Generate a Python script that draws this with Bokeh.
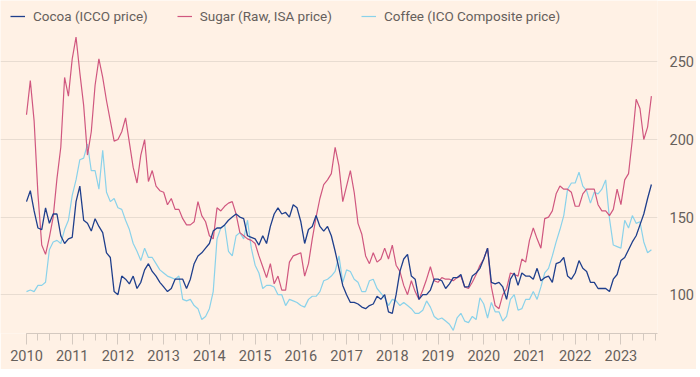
import pandas as pd
from bokeh.plotting import figure
from bokeh.models import FixedTicker, Legend, LegendItem, ColumnDataSource
from bokeh.embed import file_html
from bokeh.resources import INLINE

# Monthly index values, Jan 2010 .. Sep 2023
cocoa = [160,167,154,143,142,156,146,152,152,138,133,136,137,160,170,148,146,141,149,144,
         140,127,124,102,100,112,110,107,112,104,108,116,120,115,112,108,105,102,104,110,
         110,110,104,110,120,125,127,130,133,141,143,143,145,148,150,152,150,149,138,137,
         136,132,138,133,144,152,156,152,153,150,158,156,147,133,142,144,151,144,141,144,
         138,128,117,106,100,95,95,94,92,91,93,94,99,97,100,89,88,100,115,123,
         126,112,110,97,100,100,103,110,110,109,104,107,111,111,113,105,105,112,114,117,
         123,130,108,107,108,105,97,110,114,106,114,112,112,110,117,109,111,112,108,120,
         121,124,112,110,114,122,117,115,108,108,104,104,104,102,110,113,122,124,129,134,
         138,145,152,162,171]
sugar = [216,238,212,165,132,126,137,150,175,195,240,228,252,266,243,222,190,205,235,252,
         240,225,212,199,200,205,214,198,182,172,190,200,173,180,170,167,166,158,162,155,
         155,149,145,145,147,160,151,147,138,136,156,154,157,159,160,152,140,138,136,135,
         133,125,118,111,120,107,112,103,103,121,125,126,127,112,120,136,150,162,171,174,
         178,195,183,160,170,180,166,146,139,125,120,127,121,123,130,123,132,119,115,106,
         100,109,102,97,103,110,118,109,108,111,110,110,109,111,112,105,104,108,113,119,
         123,130,105,93,91,100,104,114,113,112,123,121,135,143,136,130,149,150,154,165,
         170,168,168,166,157,157,165,168,168,168,158,154,154,151,155,168,158,174,178,200,
         226,220,200,208,228]
coffee = [102,103,102,106,106,108,129,134,135,133,142,148,164,174,187,188,197,180,180,168,
          193,166,160,162,156,155,148,142,133,128,122,130,124,124,120,116,114,112,111,110,
          112,97,96,97,93,91,84,86,91,102,136,143,145,128,125,138,140,136,148,130,
          119,114,104,106,106,105,100,100,93,97,96,95,93,92,97,99,99,102,109,110,
          112,115,125,108,116,115,110,108,102,102,109,110,104,101,98,93,97,96,93,95,
          93,91,88,88,90,96,92,86,84,85,83,81,77,85,88,83,82,86,84,98,
          94,85,95,89,89,83,86,97,100,90,91,97,97,102,97,105,114,117,125,134,
          142,151,168,172,172,179,170,167,159,166,165,168,174,149,132,131,130,148,143,151,
          146,147,134,127,129]
dates = pd.date_range("2010-01-01", periods=len(cocoa), freq="MS")
years = [d.year + (d.month - 1) / 12 for d in dates]

year_ticks = list(range(2010, 2024))
quarter_ticks = [2010 + q / 4 for q in range(0, 56)]
value_ticks = [100, 150, 200, 250]
series_names = ["Cocoa (ICCO price)", "Sugar (Raw, ISA price)", "Coffee (ICO Composite price)"]

BG = "#FFF1E5"
TXT = "#66605c"
FONT = "Roboto"
X_START, X_END = 2010.0, 2023.8

src = ColumnDataSource(dict(x=years, cocoa=cocoa, sugar=sugar, coffee=coffee))

p = figure(frame_width=657, frame_height=333, x_range=(2009.4314, X_END), y_range=(75, 289.6),
           y_axis_location="right", output_backend="svg", toolbar_location=None,
           background_fill_color=BG, border_fill_color=BG, outline_line_color=None)
p.min_border = 0
p.min_border_left = 0
p.min_border_right = 35
p.min_border_bottom = 36
p.min_border_top = 0

r_coffee = p.line("x", "coffee", source=src, line_color="#8ad2ea", line_width=1.2)
r_sugar = p.line("x", "sugar", source=src, line_color="#d0577f", line_width=1.2)
r_cocoa = p.line("x", "cocoa", source=src, line_color="#1f3f8c", line_width=1.3)

xa = p.xaxis[0]
xa.bounds = (X_START, X_END)
xa.ticker = FixedTicker(ticks=year_ticks, minor_ticks=quarter_ticks)
xa.axis_line_color = "#d4c9c0"
xa.major_tick_line_color = "#d4c9c0"
xa.minor_tick_line_color = "#d4c9c0"
xa.major_tick_in = 0
xa.major_tick_out = 11
xa.minor_tick_in = 0
xa.minor_tick_out = 7
xa.major_label_standoff = 5
xa.major_label_text_font = FONT
xa.major_label_text_font_size = "14.5px"
xa.major_label_text_color = TXT

ya = p.yaxis[0]
ya.ticker = FixedTicker(ticks=value_ticks)
ya.axis_line_color = None
ya.major_tick_line_color = None
ya.minor_tick_line_color = None
ya.major_label_standoff = 6
ya.major_label_text_font = FONT
ya.major_label_text_font_size = "14.5px"
ya.major_label_text_color = TXT

p.xgrid.grid_line_color = None
p.ygrid.ticker = FixedTicker(ticks=value_ticks)
p.ygrid.bounds = (X_START, X_END)
p.ygrid.grid_line_color = "#e8dcd1"
p.ygrid.grid_line_width = 1

legend = Legend(items=[LegendItem(label=series_names[0], renderers=[r_cocoa]),
                       LegendItem(label=series_names[1], renderers=[r_sugar]),
                       LegendItem(label=series_names[2], renderers=[r_coffee])],
                location=(10, 309), orientation="horizontal",
                glyph_width=15, glyph_height=16, label_height=16, label_standoff=8,
                spacing=29, padding=0, margin=0,
                background_fill_alpha=0, border_line_alpha=0,
                label_text_font=FONT, label_text_font_size="13.5px", label_text_color=TXT)
p.add_layout(legend)

open("out.html", "w").write(file_html(p, INLINE))
